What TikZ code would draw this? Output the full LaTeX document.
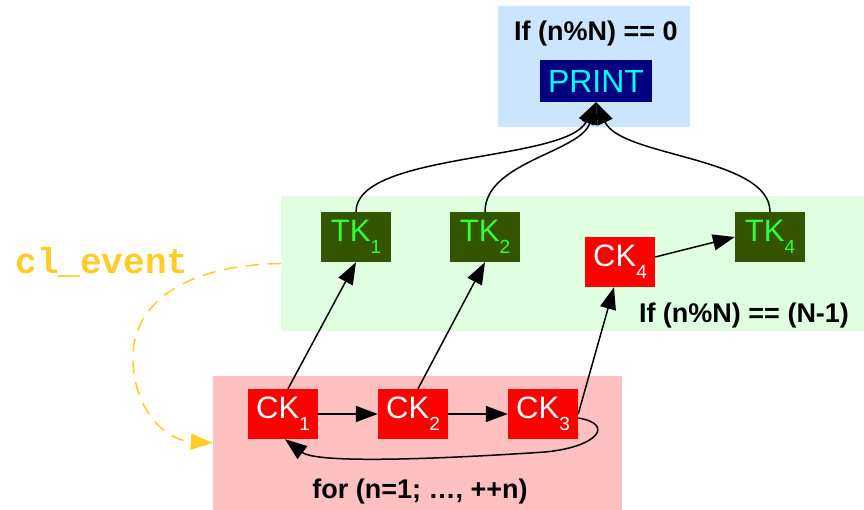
\documentclass[tikz,border=0pt]{standalone}
\usepackage{fontspec}
\setmainfont{Liberation Sans}
\newfontfamily\evtfont{Liberation Mono}
\usetikzlibrary{arrows.meta}

\definecolor{bluebg}{RGB}{204,229,255}
\definecolor{greenbg}{RGB}{224,255,224}
\definecolor{redbg}{RGB}{255,192,192}
\definecolor{ckred}{RGB}{255,0,0}
\definecolor{tkgreen}{RGB}{51,85,0}
\definecolor{tktext}{RGB}{51,255,51}
\definecolor{printbg}{RGB}{0,0,128}
\definecolor{printtext}{RGB}{0,255,255}
\definecolor{evtgold}{RGB}{255,204,40}

% lowered index digit of a node label
\newcommand{\ksub}[1]{\raisebox{-12pt}{\fontsize{19}{19}\selectfont #1}}

\begin{document}
\begin{tikzpicture}[x=1pt, y=-1pt]
    % Define styles for boxes and lines
    \tikzset{
        cluster/.style={rectangle, inner sep=0pt, draw=none},
        clabel/.style={anchor=base, inner sep=0pt, font=\bfseries\fontsize{27}{27}\selectfont},
        ckbox/.style={rectangle, fill=ckred, text=white, minimum width=70pt, minimum height=50pt, inner sep=0pt, font=\fontsize{31}{31}\selectfont},
        tkbox/.style={ckbox, fill=tkgreen, text=tktext},
        edge/.style={-{Triangle[length=22pt, width=16pt]}, line width=1.5pt},
        evt/.style={-{Triangle[length=22pt, width=16pt]}, draw=evtgold, line width=1.5pt, dash pattern=on 13pt off 9pt}
    }
    \useasboundingbox (0,0) rectangle (864,510);

    % CLUSTERS
    \node[cluster, fill=bluebg, minimum width=192pt, minimum height=121pt] (blue) at (594,66.5) {};
    \node[cluster, fill=greenbg, minimum width=583pt, minimum height=135pt] (green) at (572.5,263.5) {};
    \node[cluster, fill=redbg, minimum width=409pt, minimum height=134pt] (red) at (417.5,443) {};

    % Cluster Labels
    \node[clabel] (lblue) at (596,41) {If (n\%N) == 0};
    \node[clabel] (lgreen) at (744,323) {If (n\%N) == (N-1)};
    \node[clabel] (lred) at (420,498) {for (n=1; …, ++n)};
    \node[anchor=base, inner sep=0pt, text=evtgold, font=\evtfont\bfseries\fontsize{36}{36}\selectfont] (event) at (102,274) {cl\_event};

    % Nodes
    \node[ckbox, fill=printbg, text=printtext, minimum width=112pt, minimum height=42pt, font=\fontsize{32}{32}\selectfont] (print) at (596,81) {PRINT};
    \node[tkbox] (tk1) at (356,237) {TK\ksub{1}};
    \node[tkbox] (tk2) at (485,237) {TK\ksub{2}};
    \node[tkbox] (tk4) at (770,237) {TK\ksub{4}};
    \node[ckbox] (ck4) at (620,262) {CK\ksub{4}};
    \node[ckbox] (ck1) at (283,414) {CK\ksub{1}};
    \node[ckbox] (ck2) at (413,414) {CK\ksub{2}};
    \node[ckbox] (ck3) at (543,414) {CK\ksub{3}};

    % Lines to PRINT
    \draw[edge] (tk1.north) .. controls +(0,-60) and +(-30,60) .. (print.south);
    \draw[edge] (tk2.north) .. controls +(0,-50) and +(-15,50) .. (print.south);
    \draw[edge] (tk4.north) .. controls +(0,-55) and +(25,55) .. (print.south);

    % Lines from the CK chain
    \draw[edge] ([xshift=5pt]ck1.north) -- (tk1.south);
    \draw[edge] ([xshift=5pt]ck2.north) -- (tk2.south);
    \draw[edge] (ck3.east) -- ([xshift=-6pt]ck4.south);
    \draw[edge] ([yshift=5pt]ck4.east) -- (tk4.west);
    \draw[edge] (ck1.east) -- (ck2.west);
    \draw[edge] (ck2.east) -- (ck3.west);

    % Loop back: CK3 -> CK1
    \draw[edge] ([yshift=-4pt]ck3.east) .. controls (615,424) and (598,447) .. (545,452)
        .. controls (485,456) and (320,466) .. ([xshift=2pt]ck1.south);

    % Event edge (dashed)
    \draw[evt] (green.west) .. controls (190,265) and (133,300) .. (133,357)
        .. controls (133,410) and (165,440) .. (red.west);
\end{tikzpicture}
\end{document}
